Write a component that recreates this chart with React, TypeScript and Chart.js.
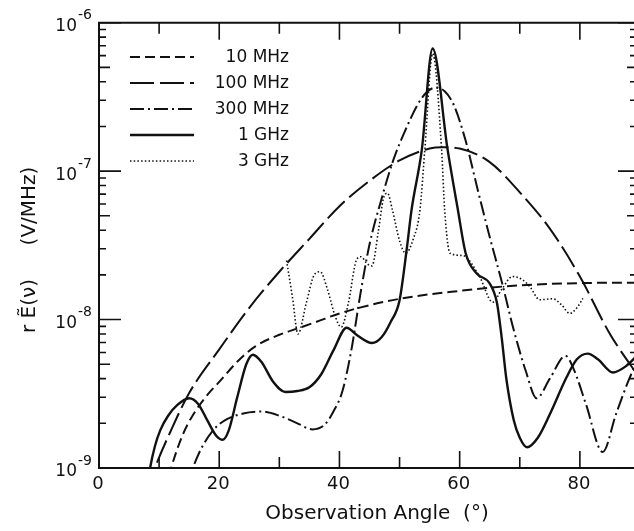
import React, { useEffect, useRef } from 'react';
import { Chart, registerables } from 'chart.js';

Chart.register(...registerables);

const seriesLabels = ['10 MHz', '100 MHz', '300 MHz', '1 GHz', '3 GHz'];

const angles10MHz = [11, 12, 14, 16, 18, 20, 23, 26, 30, 33, 36, 40, 45, 50, 55, 60, 65, 70, 75, 80, 85, 90];
const field10MHz = [7e-10, 1e-9, 1.7e-9, 2.4e-9, 3.1e-9, 3.8e-9, 5.2e-9, 6.6e-9, 7.9e-9, 8.7e-9, 9.6e-9, 1.1e-8, 1.25e-8, 1.38e-8, 1.48e-8, 1.56e-8, 1.64e-8, 1.7e-8, 1.74e-8, 1.76e-8, 1.77e-8, 1.77e-8];

const angles100MHz = [8, 9.3, 12, 15, 20, 25, 30, 35, 40, 45, 50, 55, 57, 60, 65, 70, 75, 80, 85, 90];
const field100MHz = [7e-10, 1e-9, 1.8e-9, 3.2e-9, 6.3e-9, 1.2e-8, 2.1e-8, 3.5e-8, 5.8e-8, 8.6e-8, 1.18e-7, 1.42e-7, 1.45e-7, 1.42e-7, 1.15e-7, 7.2e-8, 4.1e-8, 1.95e-8, 8e-9, 4e-9];

const angles300MHz = [14.5, 15.6, 17, 19, 21, 24, 27, 30, 33, 35.5, 37.5, 39, 40.5, 42, 43.5, 45, 47, 49, 51, 53, 54.5, 56, 57.5, 59, 61, 63, 65, 67, 69, 71, 72.8, 75, 77.6, 79, 81, 83.8, 86, 88, 90];
const field300MHz = [7.5e-10, 1e-9, 1.35e-9, 1.8e-9, 2.1e-9, 2.33e-9, 2.4e-9, 2.25e-9, 2.0e-9, 1.82e-9, 1.95e-9, 2.4e-9, 3.3e-9, 6.3e-9, 1.5e-8, 3.2e-8, 6.5e-8, 1.2e-7, 1.9e-7, 2.8e-7, 3.4e-7, 3.65e-7, 3.45e-7, 2.8e-7, 1.6e-7, 7.5e-8, 3.6e-8, 1.8e-8, 8.5e-9, 4.5e-9, 2.95e-9, 4.0e-9, 5.7e-9, 4.6e-9, 2.7e-9, 1.28e-9, 2.3e-9, 3.8e-9, 5.8e-9];

const angles1GHz = [7.8, 8.5, 9.3, 10.2, 11.5, 13, 15, 16.5, 18, 19.5, 20.6, 21.6, 23, 24.5, 25.6, 27, 29, 31, 33, 35, 37, 39, 41.2, 43, 45.4, 47, 48.5, 50, 51.2, 52, 53.7, 55.5, 58, 59.7, 61, 62.8, 65, 66.2, 67, 67.8, 69, 70, 71.2, 73, 75, 77.8, 79.5, 81.3, 83, 85.5, 87.5, 90];
const field1GHz = [6.5e-10, 1e-9, 1.4e-9, 1.8e-9, 2.25e-9, 2.65e-9, 2.95e-9, 2.7e-9, 2.1e-9, 1.65e-9, 1.55e-9, 1.8e-9, 3.0e-9, 5.0e-9, 5.8e-9, 5.2e-9, 3.8e-9, 3.25e-9, 3.3e-9, 3.5e-9, 4.3e-9, 6.2e-9, 8.8e-9, 7.8e-9, 6.95e-9, 7.6e-9, 9.6e-9, 1.35e-8, 3.0e-8, 5.5e-8, 1.39e-7, 6.7e-7, 1.39e-7, 5.5e-8, 2.8e-8, 2.05e-8, 1.75e-8, 1.3e-8, 7.5e-9, 3.9e-9, 2.1e-9, 1.6e-9, 1.38e-9, 1.6e-9, 2.3e-9, 4.1e-9, 5.4e-9, 5.9e-9, 5.4e-9, 4.4e-9, 4.8e-9, 6e-9];

const angles3GHz = [31.2, 32.2, 33.1, 34.5, 35.8, 36.8, 38, 39.3, 40.3, 41.5, 42.8, 43.6, 44.5, 45.4, 46.5, 47.3, 48, 48.8, 50, 51, 52.3, 53.4, 54.2, 55.5, 57, 57.5, 58.4, 60.5, 63.3, 65.5, 67, 68.8, 70.5, 71.7, 73.3, 75.5, 77, 78.3, 79.5, 80.5];
const field3GHz = [2.5e-8, 1.4e-8, 8e-9, 1.3e-8, 2e-8, 2.1e-8, 1.6e-8, 1.05e-8, 8.9e-9, 1.3e-8, 2.5e-8, 2.65e-8, 2.4e-8, 2.3e-8, 4e-8, 6.5e-8, 7.1e-8, 5.5e-8, 3.4e-8, 2.8e-8, 3.5e-8, 5.5e-8, 1.39e-7, 6.2e-7, 1.39e-7, 5.5e-8, 2.8e-8, 2.7e-8, 1.95e-8, 1.31e-8, 1.6e-8, 1.95e-8, 1.85e-8, 1.66e-8, 1.36e-8, 1.38e-8, 1.25e-8, 1.1e-8, 1.2e-8, 1.39e-8];

const xTickValues = [10, 20, 30, 40, 50, 60, 70, 80];
const xLabelValues = [0, 20, 40, 60, 80];
const yDecadeExponents = [-9, -8, -7, -6];
const xTitle = 'Observation Angle  (°)';
const yTitleLeft = 'r Ẽ(ν)';
const yTitleRight = '(V/MHz)';

const FONT = '"DejaVu Sans", sans-serif';
const INK = '#111';

const framePlugin = {
  id: 'framePlugin',
  afterDraw(chart: any) {
    const { ctx, chartArea: a, scales } = chart;
    const xs = scales.x;
    const ys = scales.y;
    ctx.save();
    ctx.strokeStyle = INK;
    ctx.fillStyle = INK;
    ctx.setLineDash([]);
    ctx.lineWidth = 2;
    ctx.beginPath();
    ctx.moveTo(a.left, a.top);
    ctx.lineTo(a.right, a.top);
    ctx.moveTo(a.left, a.top - 1);
    ctx.lineTo(a.left, a.bottom + 1);
    ctx.moveTo(a.left, a.bottom);
    ctx.lineTo(a.right, a.bottom);
    ctx.moveTo(a.right, a.top);
    ctx.lineTo(a.right, a.bottom);
    ctx.stroke();

    // y ticks
    ctx.lineWidth = 1.6;
    ctx.beginPath();
    for (const e of yDecadeExponents) {
      for (let k = 1; k <= 9; k++) {
        if (e === -6 && k > 1) continue;
        const v = k * Math.pow(10, e);
        const py = ys.getPixelForValue(v);
        const lenL = k === 1 ? 22 : k === 5 ? 11 : 7;
        const lenR = k === 1 ? 22 : k === 5 ? 13 : 10;
        ctx.moveTo(a.left, py);
        ctx.lineTo(a.left + lenL, py);
        ctx.moveTo(a.right, py);
        ctx.lineTo(a.right - lenR, py);
      }
    }
    // x ticks
    for (const v of xTickValues) {
      const px = xs.getPixelForValue(v);
      const len = v % 20 === 0 ? 17 : 11;
      ctx.moveTo(px, a.bottom);
      ctx.lineTo(px, a.bottom - len);
      ctx.moveTo(px, a.top);
      ctx.lineTo(px, a.top + len);
    }
    ctx.stroke();

    // x tick labels
    ctx.font = `18px ${FONT}`;
    ctx.textAlign = 'center';
    ctx.textBaseline = 'middle';
    for (const v of xLabelValues) {
      ctx.fillText(String(v), xs.getPixelForValue(v) - 1, a.bottom + 16);
    }
    // y tick labels (10^n)
    for (const e of yDecadeExponents) {
      const py = ys.getPixelForValue(Math.pow(10, e));
      ctx.font = `17px ${FONT}`;
      ctx.textAlign = 'right';
      ctx.fillText('10', 77, py + 4);
      ctx.font = `14px ${FONT}`;
      ctx.textAlign = 'left';
      ctx.fillText('-' + String(-e), 78, py - 7);
    }

    // axis titles
    ctx.font = `20px ${FONT}`;
    ctx.textAlign = 'center';
    ctx.fillText(xTitle, 377, 514);
    ctx.save();
    ctx.translate(30, 0);
    ctx.rotate(-Math.PI / 2);
    ctx.fillText(yTitleLeft, -306, 0);
    ctx.fillText(yTitleRight, -206, 0);
    ctx.restore();

    // legend
    const dsets = chart.data.datasets;
    for (let i = 0; i < dsets.length; i++) {
      const ds = dsets[i];
      const ly = 57 + 26 * i;
      ctx.lineWidth = ds.borderWidth;
      ctx.setLineDash(ds.borderDash || []);
      ctx.beginPath();
      ctx.moveTo(130, ly);
      ctx.lineTo(194, ly);
      ctx.stroke();
      ctx.setLineDash([]);
      ctx.font = `17px ${FONT}`;
      ctx.textAlign = 'right';
      ctx.fillText(ds.label, 289, ly + 1);
    }
    ctx.restore();
  },
};

function toPoints(xs: number[], ys: number[]) {
  return xs.map((x, i) => ({ x, y: ys[i] }));
}

export default function App() {
  const ref = useRef<HTMLCanvasElement>(null);
  useEffect(() => {
    if (!ref.current) return;
    const common = {
      borderColor: INK,
      backgroundColor: INK,
      pointRadius: 0,
      fill: false,
      cubicInterpolationMode: 'monotone' as const,
    };
    const chart = new Chart(ref.current, {
      type: 'line',
      data: {
        datasets: [
          { ...common, label: seriesLabels[0], data: toPoints(angles10MHz, field10MHz), borderWidth: 2, borderDash: [10, 5] },
          { ...common, label: seriesLabels[1], data: toPoints(angles100MHz, field100MHz), borderWidth: 2, borderDash: [24, 6] },
          { ...common, label: seriesLabels[2], data: toPoints(angles300MHz, field300MHz), borderWidth: 2, borderDash: [14, 4, 2, 4] },
          { ...common, label: seriesLabels[3], data: toPoints(angles1GHz, field1GHz), borderWidth: 2.4, borderDash: [] },
          { ...common, label: seriesLabels[4], data: toPoints(angles3GHz, field3GHz), borderWidth: 1.6, borderDash: [1.5, 2.2] },
        ],
      },
      options: {
        animation: false,
        responsive: false,
        layout: { padding: { left: 99, top: 22.7, right: 0, bottom: 63 } },
        plugins: { legend: { display: false }, tooltip: { enabled: false } },
        scales: {
          x: { type: 'linear', min: 0, max: 90, display: false },
          y: { type: 'logarithmic', min: 1e-9, max: 1e-6, display: false },
        },
      },
      plugins: [framePlugin],
    });
    return () => chart.destroy();
  }, []);
  return (
    <div style={{ position: 'absolute', left: 0, top: 0, width: 634, height: 531, overflow: 'hidden', background: '#fff' }}>
      <canvas ref={ref} width={640} height={531} style={{ width: 640, height: 531 }} />
    </div>
  );
}
